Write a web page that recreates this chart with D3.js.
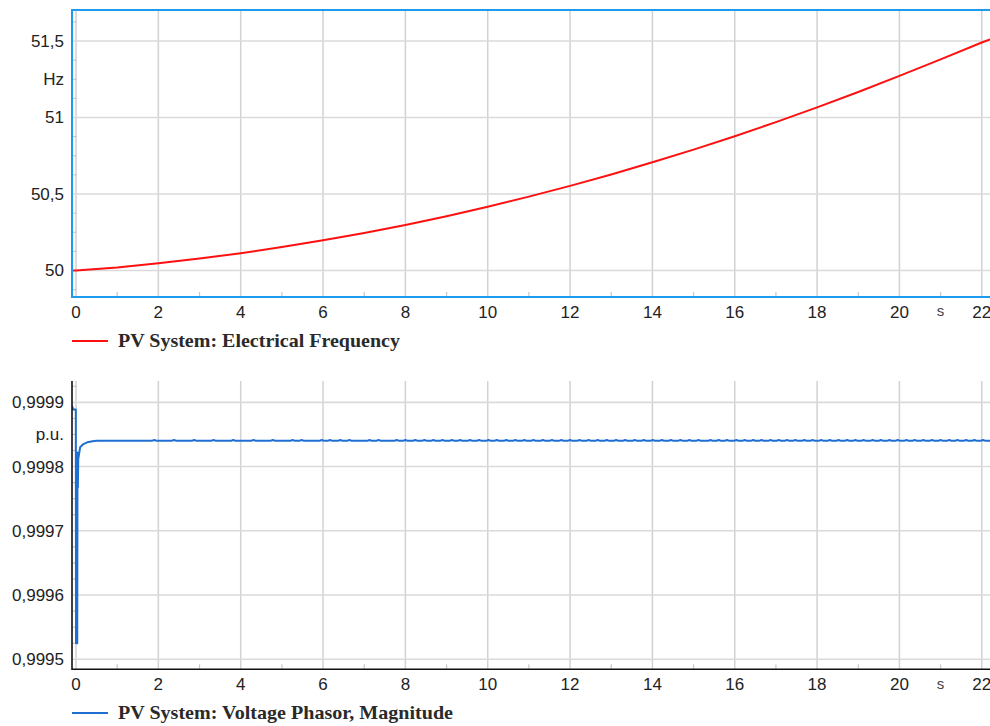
<!DOCTYPE html>
<html>
<head>
<meta charset="utf-8">
<script src="https://cdn.jsdelivr.net/npm/d3@7/dist/d3.min.js"></script>
<style>
  html, body { margin: 0; padding: 0; background: #fff; overflow: hidden; }
  svg { display: block; }
  .tick-label { font-family: "Liberation Sans", Arial, sans-serif; font-size: 17px; fill: #222; }
  .unit-label { font-family: "Liberation Sans", Arial, sans-serif; font-size: 17px; fill: #222; }
  .legend-text { font-family: "Liberation Serif", "Times New Roman", serif; font-weight: bold; font-size: 19px; fill: #2a2a2a; }
</style>
</head>
<body>
<svg id="chart" width="990" height="726"></svg>
<script>
// ---- Time axis (seconds) ----
const timeTicks = [0, 2, 4, 6, 8, 10, 12, 14, 16, 18, 20, 22];
const timeMinorTicks = [1, 3, 5, 7, 9, 11, 13, 15, 17, 19, 21];

// ---- PV System: Electrical Frequency (Hz) ----
const freqTime = [-0.1, 0, 1, 2, 3, 4, 5, 6, 7, 8, 9, 10, 11, 12, 13, 14, 15, 16, 17, 18, 19, 20, 21, 22, 22.2];
const freqValues = [50.0, 50.0, 50.02, 50.048, 50.078, 50.113, 50.153, 50.197, 50.245, 50.298, 50.355, 50.417,
                    50.483, 50.553, 50.628, 50.707, 50.79, 50.877, 50.97, 51.066, 51.167, 51.272, 51.38, 51.49, 51.51];
const freqTicks = [50, 50.5, 51, 51.5];
const freqMinorTicks = [49.875, 50.125, 50.25, 50.375, 50.625, 50.75, 50.875, 51.125, 51.25, 51.375, 51.625];

// ---- PV System: Voltage Phasor, Magnitude (p.u.) ----
const voltTransientTime = [-0.1, -0.07, -0.005, 0.0, 0.03, 0.036, 0.045, 0.055, 0.1, 0.18, 0.28, 0.4, 0.5];
const voltTransientValues = [0.999895, 0.999889, 0.999889, 0.999525, 0.999525, 0.999822, 0.999768, 0.999812,
                             0.99983, 0.999835, 0.999838, 0.9998395, 0.99984];
const voltSteady = 0.99984;
const voltRipplePeak = 0.9998414;
const voltRippleTimes = [1.90, 2.38, 2.87, 3.34, 3.82, 4.31, 4.78, 5.26, 5.48, 5.97, 6.17, 6.42, 6.64, 7.13, 7.35, 7.79,
  8.0, 8.24, 8.46, 8.68, 8.90, 9.13, 9.33, 9.57, 9.79, 10.02, 10.22, 10.45, 10.67, 10.89, 11.11, 11.34, 11.56, 11.79,
  12.0, 12.23, 12.45, 12.67, 12.89, 13.12, 13.34, 13.57, 13.79, 14.01, 14.23, 14.45, 14.68, 14.9,
  15.12, 15.41, 15.61, 15.81, 16.04, 16.24, 16.45, 16.65, 16.87, 17.07, 17.27, 17.47, 17.69, 17.89, 18.1, 18.31,
  18.52, 18.73, 18.93, 19.13, 19.35, 19.55, 19.76, 19.96, 20.17, 20.37, 20.58, 20.79, 21.0, 21.21, 21.41, 21.62,
  21.82, 22.03];
const voltEndTime = 22.3;
const voltTicks = [0.9995, 0.9996, 0.9997, 0.9998, 0.9999];
const voltMinorTicks = [0.999525, 0.99955, 0.999575, 0.999625, 0.99965, 0.999675, 0.999725, 0.99975, 0.999775,
                        0.999825, 0.99985, 0.999875, 0.999925];

// ---- Build the voltage trace: transient, then steady value with small ripple peaks ----
const voltSeries = voltTransientTime.map((t, i) => [t, voltTransientValues[i]]);
voltRippleTimes.forEach(t => {
  voltSeries.push([t - 0.06, voltSteady], [t, voltRipplePeak], [t + 0.06, voltSteady]);
});
voltSeries.push([voltEndTime, voltSteady]);
const freqSeries = freqTime.map((t, i) => [t, freqValues[i]]);

const svg = d3.select("#chart");
const W = 990;
const plotLeft = 72;

const x = d3.scaleLinear().domain([-0.1, 22.2]).range([71.9, 990]);

const commaFmt = d => String(d).replace(".", ",");

function drawPanel(cfg) {
  const g = svg.append("g");
  const y = d3.scaleLinear().domain(cfg.yDomain).range([cfg.bottom, cfg.top]);

  // grid lines
  g.append("g").selectAll("line").data(timeTicks).join("line")
    .attr("x1", d => x(d)).attr("x2", d => x(d))
    .attr("y1", cfg.top).attr("y2", cfg.bottom)
    .attr("stroke", "#d2d2d2").attr("stroke-width", 1.5);
  g.append("g").selectAll("line").data(cfg.yTicks).join("line")
    .attr("x1", plotLeft).attr("x2", W)
    .attr("y1", d => y(d)).attr("y2", d => y(d))
    .attr("stroke", "#dadada").attr("stroke-width", 1.6);

  // minor ticks on the value axis
  g.append("g").selectAll("line").data(cfg.yMinor).join("line")
    .attr("x1", plotLeft).attr("x2", plotLeft + 5)
    .attr("y1", d => y(d)).attr("y2", d => y(d))
    .attr("stroke", "#c8c8c8").attr("stroke-width", 1.2);
  // minor ticks on the time axis
  g.append("g").selectAll("line").data(timeMinorTicks).join("line")
    .attr("x1", d => x(d)).attr("x2", d => x(d))
    .attr("y1", cfg.bottom - 5).attr("y2", cfg.bottom)
    .attr("stroke", "#c8c8c8").attr("stroke-width", 1.2);

  // trace
  const clipId = "clip-" + cfg.id;
  svg.append("clipPath").attr("id", clipId).append("rect")
    .attr("x", plotLeft).attr("y", cfg.top).attr("width", W - plotLeft).attr("height", cfg.bottom - cfg.top);
  const line = d3.line().x(d => x(d[0])).y(d => y(d[1]));
  g.append("path").datum(cfg.series)
    .attr("clip-path", `url(#${clipId})`)
    .attr("fill", "none").attr("stroke", cfg.color).attr("stroke-width", 2)
    .attr("stroke-linejoin", "round")
    .attr("d", line);

  // frame
  if (cfg.framed) {
    g.append("path")
      .attr("d", `M${W + 2},${cfg.top} H${plotLeft} V${cfg.bottom} H${W + 2}`)
      .attr("fill", "none").attr("stroke", "#1c9bef").attr("stroke-width", 2);
  } else {
    g.append("path")
      .attr("d", `M${plotLeft},${cfg.top} V${cfg.bottom} H${W + 2}`)
      .attr("fill", "none").attr("stroke", "#111").attr("stroke-width", 1.6);
  }

  // value axis labels
  g.append("g").selectAll("text").data(cfg.yTicks).join("text")
    .attr("class", "tick-label")
    .attr("x", 64).attr("y", d => y(d)).attr("dy", "0.35em")
    .attr("text-anchor", "end")
    .text(cfg.yFormat);
  g.append("text").attr("class", "unit-label")
    .attr("x", 64).attr("y", y(cfg.unitAt)).attr("dy", "0.35em")
    .attr("text-anchor", "end").text(cfg.unit);

  // time axis labels
  g.append("g").selectAll("text").data(timeTicks).join("text")
    .attr("class", "tick-label")
    .attr("x", d => x(d)).attr("y", cfg.bottom + 15).attr("dy", "0.35em")
    .attr("text-anchor", "middle")
    .text(d => d);
  g.append("text").attr("x", x(21)).attr("y", cfg.bottom + 14).attr("dy", "0.35em")
    .attr("text-anchor", "middle")
    .style("font-family", "'Liberation Sans', Arial, sans-serif").style("font-size", "15px").style("fill", "#444")
    .text("s");

  // legend
  g.append("line").attr("x1", 72).attr("x2", 108)
    .attr("y1", cfg.legendY).attr("y2", cfg.legendY)
    .attr("stroke", cfg.color).attr("stroke-width", 2);
  g.append("text").attr("class", "legend-text")
    .attr("x", 118).attr("y", cfg.legendY).attr("dy", "0.33em")
    .attr("textLength", cfg.legendWidth).attr("lengthAdjust", "spacingAndGlyphs")
    .text(cfg.legend);
}

drawPanel({
  id: "freq", top: 10, bottom: 297,
  yDomain: [49.8268, 51.7026],
  yTicks: freqTicks, yMinor: freqMinorTicks, yFormat: commaFmt,
  unit: "Hz", unitAt: 51.25,
  series: freqSeries, color: "#ff1010", framed: true,
  legendY: 341, legend: "PV System: Electrical Frequency", legendWidth: 282
});

drawPanel({
  id: "volt", top: 381, bottom: 669.3,
  yDomain: [0.9994844, 0.9999332],
  yTicks: voltTicks, yMinor: voltMinorTicks, yFormat: commaFmt,
  unit: "p.u.", unitAt: 0.99985,
  series: voltSeries, color: "#1f6fd2", framed: false,
  legendY: 713, legend: "PV System: Voltage Phasor, Magnitude", legendWidth: 335
});
</script>
</body>
</html>
